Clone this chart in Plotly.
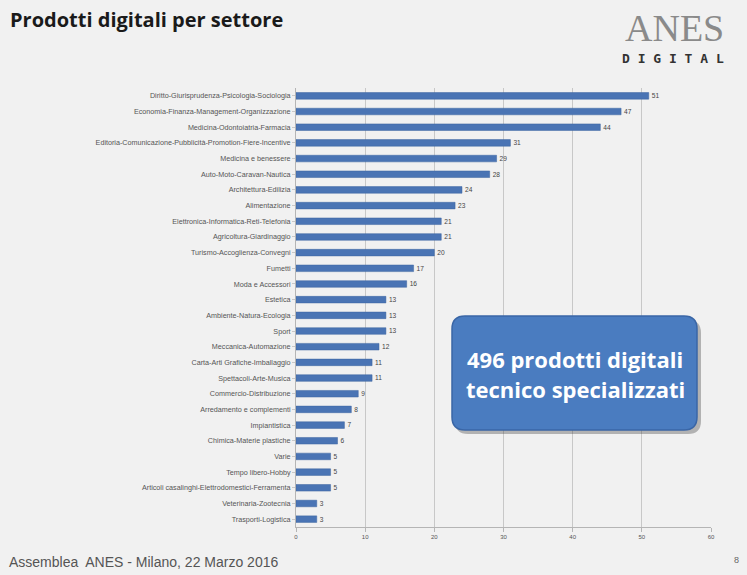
import plotly.graph_objects as go

categories = [
    "Diritto-Giurisprudenza-Psicologia-Sociologia",
    "Economia-Finanza-Management-Organizzazione",
    "Medicina-Odontoiatria-Farmacia",
    "Editoria-Comunicazione-Pubblicità-Promotion-Fiere-Incentive",
    "Medicina e benessere",
    "Auto-Moto-Caravan-Nautica",
    "Architettura-Edilizia",
    "Alimentazione",
    "Elettronica-Informatica-Reti-Telefonia",
    "Agricoltura-Giardinaggio",
    "Turismo-Accoglienza-Convegni",
    "Fumetti",
    "Moda e Accessori",
    "Estetica",
    "Ambiente-Natura-Ecologia",
    "Sport",
    "Meccanica-Automazione",
    "Carta-Arti Grafiche-Imballaggio",
    "Spettacoli-Arte-Musica",
    "Commercio-Distribuzione",
    "Arredamento e complementi",
    "Impiantistica",
    "Chimica-Materie plastiche",
    "Varie",
    "Tempo libero-Hobby",
    "Articoli casalinghi-Elettrodomestici-Ferramenta",
    "Veterinaria-Zootecnia",
    "Trasporti-Logistica",
]
values = [51, 47, 44, 31, 29, 28, 24, 23, 21, 21, 20, 17, 16, 13, 13, 13, 12, 11, 11, 9, 8, 7, 6, 5, 5, 5, 3, 3]
x_ticks = [0, 10, 20, 30, 40, 50, 60]

W, H = 747, 575
L, R, T, B = 296, 711, 88, 527

def px(x):
    return (x - L) / (R - L)

def py(y):
    return (B - y) / (B - T)

fig = go.Figure()
fig.add_trace(go.Bar(
    x=values, y=categories, orientation="h",
    marker=dict(color="#4a74b4", line=dict(color="#3d64a0", width=0.5)),
    width=0.42,
    text=values, textposition="outside", cliponaxis=False,
    textfont=dict(size=7, color="#444", family="Liberation Sans"),
))

def rounded(x0, y0, x1, y1, r):
    p = lambda x, y: f"{px(x):.5f},{py(y):.5f}"
    return (f"M {p(x0+r,y0)} L {p(x1-r,y0)} Q {p(x1,y0)} {p(x1,y0+r)} "
            f"L {p(x1,y1-r)} Q {p(x1,y1)} {p(x1-r,y1)} L {p(x0+r,y1)} "
            f"Q {p(x0,y1)} {p(x0,y1-r)} L {p(x0,y0+r)} Q {p(x0,y0)} {p(x0+r,y0)} Z")

shapes = [
    dict(type="path", xref="paper", yref="paper", path=rounded(455, 320, 701, 434, 13),
         fillcolor="rgba(60,60,60,0.35)", line=dict(width=0), layer="above"),
    dict(type="path", xref="paper", yref="paper", path=rounded(452, 316, 697, 430, 13),
         fillcolor="#4a7cc0", line=dict(color="#3a66a6", width=1.5), layer="above"),
]

annotations = [
    dict(xref="paper", yref="paper", x=px(575), y=py(359), text="<b>496 prodotti digitali</b>",
         showarrow=False, font=dict(family="Open Sans", size=22, color="white"),
         xanchor="center", yanchor="middle"),
    dict(xref="paper", yref="paper", x=px(575), y=py(389), text="<b>tecnico specializzati</b>",
         showarrow=False, font=dict(family="Open Sans", size=22, color="white"),
         xanchor="center", yanchor="middle"),
    dict(xref="paper", yref="paper", x=px(8), y=py(20), text="<b>Prodotti digitali per settore</b>",
         showarrow=False, font=dict(family="Open Sans", size=20, color="#1a1a1a"),
         xanchor="left", yanchor="middle"),
    dict(xref="paper", yref="paper", x=px(674), y=py(28), text="ANES",
         showarrow=False, font=dict(family="Liberation Serif", size=38, color="#8a8a8a"),
         xanchor="center", yanchor="middle"),
    dict(xref="paper", yref="paper", x=px(673), y=py(58), text="<b>D I G I T A L</b>",
         showarrow=False, font=dict(family="DejaVu Sans Mono", size=13, color="#333"),
         xanchor="center", yanchor="middle"),
    dict(xref="paper", yref="paper", x=px(7), y=py(562), text="Assemblea  ANES - Milano, 22 Marzo 2016",
         showarrow=False, font=dict(family="Liberation Sans", size=14, color="#555"),
         xanchor="left", yanchor="middle"),
    dict(xref="paper", yref="paper", x=px(736), y=py(560), text="8",
         showarrow=False, font=dict(family="Liberation Sans", size=9, color="#666"),
         xanchor="center", yanchor="middle"),
]

fig.update_layout(
    width=W, height=H,
    margin=dict(l=L, r=W - R, t=T, b=H - B),
    paper_bgcolor="#f1f1f1", plot_bgcolor="#f1f1f1",
    showlegend=False,
    shapes=shapes, annotations=annotations,
    xaxis=dict(range=[0, 60], tickvals=x_ticks, ticktext=[str(v) for v in x_ticks],
               showgrid=True, gridcolor="#c8c8c8", gridwidth=1, zeroline=False,
               showline=True, linecolor="#b5b5b5", ticks="outside", ticklen=4, tickcolor="#b5b5b5",
               tickfont=dict(size=6, color="#555", family="Liberation Sans")),
    yaxis=dict(categoryorder="array", categoryarray=categories, autorange="reversed",
               showline=True, linecolor="#b5b5b5", ticks="outside", ticklen=3, tickcolor="#c8c8c8",
               showgrid=False, tickfont=dict(size=7.2, color="#555", family="Liberation Sans")),
    bargap=0.58,
)

fig.write_html("out.html", config={"displayModeBar": False},
               post_script="document.body.style.margin='0';document.body.style.overflow='hidden';")
